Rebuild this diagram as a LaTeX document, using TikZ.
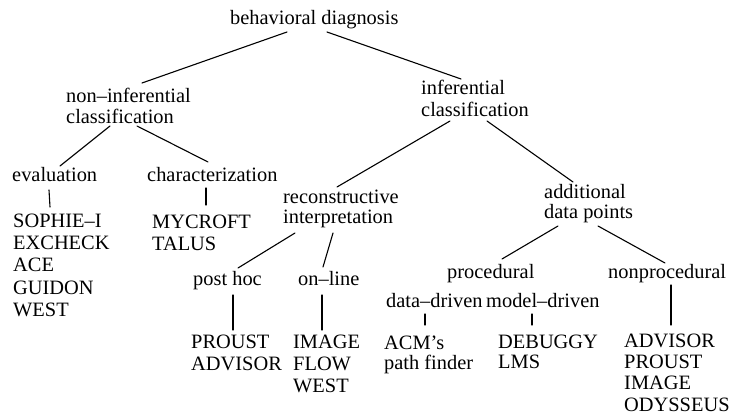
\documentclass[tikz,border=0pt]{standalone}
\usepackage{fontspec}
\setmainfont{Liberation Serif}
% left-aligned stack of lines whose baseline is that of the first line
\newcommand{\linestack}[1]{\begin{tabular}[t]{@{}l@{}}#1\end{tabular}}
\begin{document}
\begin{tikzpicture}[x=1pt,y=-1pt,
  lbl/.style={inner sep=0pt,anchor=base west,
    font=\fontsize{20.4}{20.5}\selectfont},
  lst/.style={lbl,font=\fontsize{20.4}{22.4}\selectfont},
  branch/.style={line width=1.1pt,line cap=round}]
\useasboundingbox (0,0) rectangle (730,414);

% classification labels
\node[lbl] (bd)  at (230,25)  {behavioral diagnosis};
\node[lbl] (nic) at (66,103)  {\linestack{non–inferential\\classification}};
\node[lbl,font=\fontsize{20.4}{22}\selectfont] (ic) at (421,95) {\linestack{inferential\\classification}};
\node[lbl] (ev)  at (12,182)  {evaluation};
\node[lbl] (ch)  at (147,182) {characterization};
\node[lbl,font=\fontsize{20.4}{19.5}\selectfont] (rc) at (283,204) {\linestack{reconstructive\\interpretation}};
\node[lbl] (ad)  at (544,198) {\linestack{additional\\data points}};
\node[lbl] (ph)  at (193,285) {post hoc};
\node[lbl] (ol)  at (298,285) {on–line};
\node[lbl] (pr)  at (447,278) {procedural};
\node[lbl] (np)  at (608,278) {nonprocedural};
\node[lbl] (dd)  at (386,307) {data–driven};
\node[lbl] (md)  at (486,307) {model–driven};

% system lists
\node[lst] (sl) at (13,227)  {\linestack{SOPHIE–I\\EXCHECK\\ACE\\GUIDON\\WEST}};
\node[lst] (ml) at (152,228) {\linestack{MYCROFT\\TALUS}};
\node[lst] (pl) at (191,348) {\linestack{PROUST\\ADVISOR}};
\node[lst] (il) at (293,348) {\linestack{IMAGE\\FLOW\\WEST}};
\node[lbl] (al) at (384,349) {\linestack{ACM’s\\path finder}};
\node[lbl] (dl) at (498,348) {\linestack{DEBUGGY\\LMS}};
\node[lst,font=\fontsize{20.4}{21.4}\selectfont] (nl) at (624,347) {\linestack{ADVISOR\\PROUST\\IMAGE\\ODYSSEUS}};

% branches
\draw[branch] ([shift={(57,7)}]bd.base west)  -- ([shift={(76,-20)}]nic.base west);
\draw[branch] ([shift={(97,7)}]bd.base west)  -- ([shift={(40,-16)}]ic.base west);
\draw[branch] ([shift={(44,23)}]nic.base west) -- ([shift={(48,-16)}]ev.base west);
\draw[branch] ([shift={(71,23)}]nic.base west) -- ([shift={(61,-20)}]ch.base west);
\draw[branch] ([shift={(37,8)}]ev.base west)  -- ([shift={(37,-20)}]sl.base west);
\draw[branch] ([shift={(59,6)}]ch.base west)  -- ([shift={(54,-23)}]ml.base west);
\draw[branch] ([shift={(29,26)}]ic.base west) -- ([shift={(54,-17)}]rc.base west);
\draw[branch] ([shift={(66,26)}]ic.base west) -- ([shift={(29,-16)}]ad.base west);
\draw[branch] ([shift={(12,29)}]rc.base west) -- ([shift={(45,-17)}]ph.base west);
\draw[branch] ([shift={(50,29)}]rc.base west) -- ([shift={(25,-18)}]ol.base west);
\draw[branch] ([shift={(40,10)}]ph.base west) -- ([shift={(42,-18)}]pl.base west);
\draw[branch] ([shift={(24,10)}]ol.base west) -- ([shift={(29,-18)}]il.base west);
\draw[branch] ([shift={(14,28)}]ad.base west) -- ([shift={(55,-19)}]pr.base west);
\draw[branch] ([shift={(54,28)}]ad.base west) -- ([shift={(57,-15)}]np.base west);
\draw[branch] ([shift={(39,7)}]dd.base west)  -- ([shift={(41,-24)}]al.base west);
\draw[branch] ([shift={(46,7)}]md.base west)  -- ([shift={(34,-23)}]dl.base west);
\draw[branch] ([shift={(63,7)}]np.base west)  -- ([shift={(47,-22)}]nl.base west);
\end{tikzpicture}
\end{document}
